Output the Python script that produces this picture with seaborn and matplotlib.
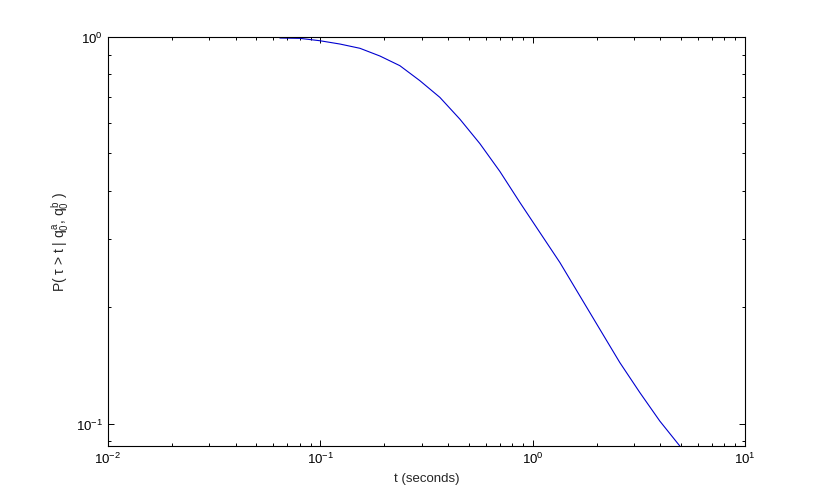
import numpy as np
import pandas as pd
import matplotlib
matplotlib.use('Agg')
import matplotlib.pyplot as plt
import matplotlib.ticker as mticker
import seaborn as sns

# survival curve (log-log)
t_seconds = [0.0645, 0.0802, 0.0996, 0.1237, 0.1536, 0.1908, 0.2369, 0.2943,
             0.3656, 0.4543, 0.5641, 0.7009, 0.8706, 1.0812, 1.343, 1.668,
             2.072, 2.574, 3.197, 3.971, 4.932]
p_survive = [0.994, 0.992, 0.978, 0.959, 0.935, 0.893, 0.843, 0.771,
             0.698, 0.613, 0.530, 0.449, 0.3733, 0.3122, 0.2611, 0.2140,
             0.1754, 0.1438, 0.1203, 0.1015, 0.0875]

df = pd.DataFrame({'t': t_seconds, 'P': p_survive})

sns.set_style('white')
plt.rcParams['font.family'] = ['Liberation Sans', 'DejaVu Sans']
plt.rcParams['mathtext.fontset'] = 'custom'
plt.rcParams['mathtext.rm'] = 'Liberation Sans'
plt.rcParams['mathtext.it'] = 'Liberation Sans'

fig = plt.figure(figsize=(8.23, 5.02), dpi=100)
fig.patch.set_facecolor('white')
ax = fig.add_axes([0.1312, 0.1096, 0.774, 0.8147])

sns.lineplot(data=df, x='t', y='P', ax=ax, color='#0000d0', linewidth=0.8)

ax.set_xscale('log')
ax.set_yscale('log')
ax.set_xlim(1e-2, 1e1)
ax.set_ylim(min(p_survive), 1.0)

ax.yaxis.set_minor_formatter(mticker.NullFormatter())
ax.xaxis.set_minor_formatter(mticker.NullFormatter())

ax.tick_params(which='both', direction='in', top=True, right=True,
               bottom=True, left=True, labelsize=9.5, colors='black')
ax.tick_params(which='major', length=4, width=0.7)
ax.tick_params(which='minor', length=2.5, width=0.7)

for side in ax.spines.values():
    side.set_color('black')
    side.set_linewidth(0.8)

ax.set_xlabel('t (seconds)', fontsize=9.5)
ax.set_ylabel(r'P( $\tau$ > t | $q_0^a$, $q_0^b$ )', fontsize=10)

fig.savefig('out.png', dpi=100, facecolor='white')
